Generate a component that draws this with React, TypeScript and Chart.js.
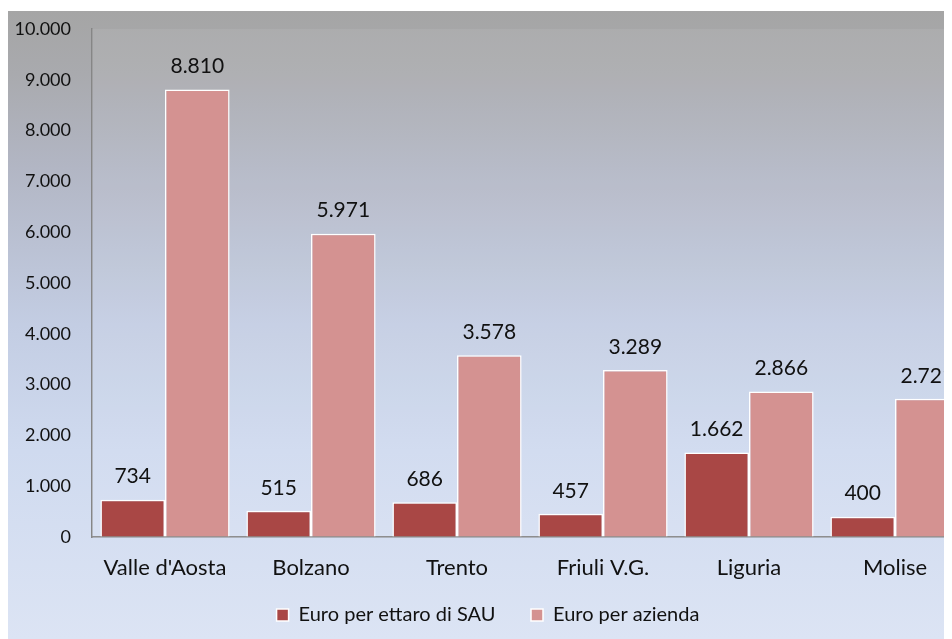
import React, { useEffect, useRef } from "react";
import { Chart, registerables } from "chart.js";

Chart.register(...registerables);

const categories = ["Valle d'Aosta", "Bolzano", "Trento", "Friuli V.G.", "Liguria", "Molise"];
const euroPerEttaro = [734, 515, 686, 457, 1662, 400];
const euroPerAzienda = [8810, 5971, 3578, 3289, 2866, 2721];
const seriesNames = ["Euro per ettaro di SAU", "Euro per azienda"];
const yTickLabels = ["0", "1.000", "2.000", "3.000", "4.000", "5.000", "6.000", "7.000", "8.000", "9.000", "10.000"];

const FONT = "Lato, 'Open Sans', sans-serif";

function fmt(v: number): string {
  return v.toString().replace(/\B(?=(\d{3})+(?!\d))/g, ".");
}

const plotTint = {
  id: "plotTint",
  beforeDatasetsDraw(chart: any) {
    const { ctx, chartArea } = chart;
    ctx.save();
    ctx.fillStyle = "rgba(255,255,255,0.07)";
    ctx.fillRect(chartArea.left, chartArea.top, chartArea.right - chartArea.left, chartArea.bottom - chartArea.top);
    ctx.restore();
  },
};

const valueLabels = {
  id: "valueLabels",
  afterDatasetsDraw(chart: any) {
    const { ctx } = chart;
    ctx.save();
    ctx.font = `21px ${FONT}`;
    ctx.fillStyle = "#111";
    ctx.textAlign = "center";
    ctx.textBaseline = "middle";
    chart.data.datasets.forEach((ds: any, di: number) => {
      const meta = chart.getDatasetMeta(di);
      meta.data.forEach((bar: any, i: number) => {
        ctx.fillText(fmt(ds.data[i]), bar.x, bar.y - 23);
      });
    });
    ctx.restore();
  },
};

export default function App() {
  const ref = useRef<HTMLCanvasElement | null>(null);
  useEffect(() => {
    if (!ref.current) return;
    const defaultGen = Chart.defaults.plugins.legend.labels.generateLabels;
    const chart = new Chart(ref.current, {
      type: "bar",
      data: {
        labels: categories,
        datasets: [
          {
            label: seriesNames[0],
            data: euroPerEttaro,
            backgroundColor: "#A94745",
            borderColor: "#ffffff",
            borderWidth: 1.5,
          },
          {
            label: seriesNames[1],
            data: euroPerAzienda,
            backgroundColor: "#D49291",
            borderColor: "#ffffff",
            borderWidth: 1.5,
          },
        ],
      },
      options: {
        animation: false,
        responsive: false,
        maintainAspectRatio: false,
        devicePixelRatio: 1,
        layout: { padding: { top: 18, right: 20, left: 0, bottom: 16 } },
        datasets: { bar: { categoryPercentage: 0.885, barPercentage: 1.0 } },
        scales: {
          x: {
            grid: { display: false, drawTicks: false },
            border: { display: true, color: "#868686", width: 1.5 },
            ticks: { font: { family: FONT, size: 22 }, color: "#111", padding: 18 },
            afterFit: (s: any) => { s.height = 58; },
          },
          y: {
            min: 0,
            max: 10000,
            grid: { color: "transparent", drawTicks: true, tickLength: 21 },
            border: { display: true, color: "#868686", width: 1.5 },
            ticks: {
              stepSize: 1000,
              font: { family: FONT, size: 18 },
              color: "#111",
              padding: 0,
              callback: (_v: any, i: number) => yTickLabels[i],
            },
            afterFit: (s: any) => { s.width = 84; },
          },
        },
        plugins: {
          legend: {
            position: "bottom",
            labels: {
              font: { family: FONT, size: 20 },
              color: "#111",
              boxWidth: 12,
              boxHeight: 12,
              padding: 10,
              generateLabels: (c: any) => {
                const items = defaultGen(c);
                if (items[0]) items[0].text = items[0].text + "     ";
                return items;
              },
            },
          },
          tooltip: { enabled: false },
        },
      },
      plugins: [plotTint, valueLabels],
    });
    return () => chart.destroy();
  }, []);

  return (
    <div
      style={{
        width: 944,
        height: 628,
        paddingTop: 3,
        overflow: "hidden",
        boxSizing: "content-box",
        background:
          "linear-gradient(to bottom, #a5a5a5 0%, #a9aaae 10%, #b2b6c4 25%, #c3cde3 50%, #cfdaef 70%, #dce4f4 100%)",
        backgroundOrigin: "content-box",
        backgroundClip: "content-box",
      }}
    >
      <canvas ref={ref} width={980} height={640} style={{ display: "block", width: 980, height: 640 }} />
    </div>
  );
}
